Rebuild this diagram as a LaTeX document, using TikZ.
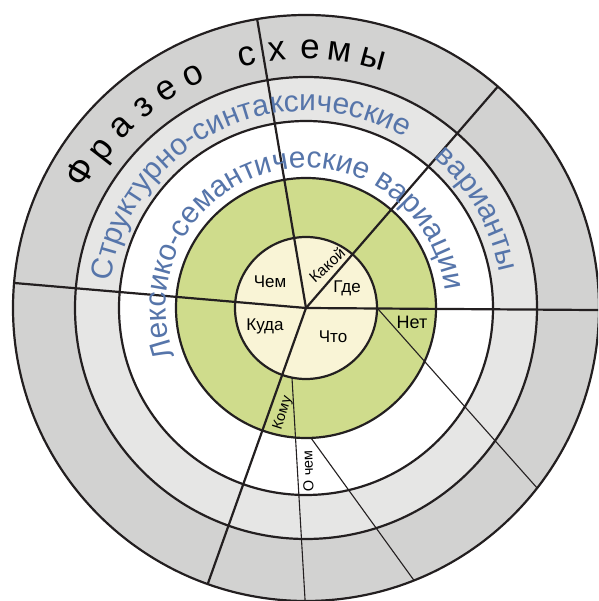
\documentclass[tikz,border=0pt]{standalone}
\usepackage{fontspec}
\setmainfont{Liberation Sans}
\usetikzlibrary{decorations.text}
\definecolor{ringdark}{RGB}{210,210,209}
\definecolor{ringlight}{RGB}{230,230,229}
\definecolor{ringgreen}{RGB}{207,220,140}
\definecolor{ringcream}{RGB}{249,244,214}
\definecolor{textblue}{RGB}{86,117,170}
\definecolor{linecol}{RGB}{35,31,32}
\tikzset{
    ring/.style={draw=linecol, line width=2.2pt},
    spoke/.style={draw=linecol, line width=2.2pt},
    thin spoke/.style={draw=linecol, line width=1.1pt},
    letter/.style={font=\fontsize{35}{35}\selectfont, anchor=base, inner sep=0pt},
    cell/.style={font=\fontsize{17}{17}\selectfont, inner sep=0pt},
    small cell/.style={font=\fontsize{14.5}{14.5}\selectfont, inner sep=0pt},
    arc text/.style={decorate, decoration={text along path, text align=center,
        text={|\fontsize{30}{30}\selectfont\color{textblue}|#1}}}
}
\begin{document}
\begin{tikzpicture}[x=1pt, y=1pt]
    \useasboundingbox (-306,-293) rectangle (292,308);
    \clip (-306,-293) rectangle (292,308);
    \coordinate (o) at (0,0);

    % Rings
    \fill[ringdark] (o) circle (293);
    \fill[ringlight] (o) circle (231);
    \fill[white] (o) circle (187);
    \fill[ringgreen] (o) circle (130);
    \fill[ringcream] (o) circle (71);

    % Spokes
    \draw[spoke] (o) -- (99.6:293);
    \draw[spoke] (o) -- (49.1:293);
    \draw[spoke] (o) -- (-0.4:300);
    \draw[spoke] (o) -- (175.1:293);
    \draw[spoke] (o) -- (250.4:293);
    \begin{scope}
        \clip (o) circle (293);
        \coordinate (komu) at (-14,-70);
        \coordinate (ochem) at (5,-130);
        \coordinate (net) at (72,-1);
        \draw[thin spoke] (komu) -- ++(26,-442);
        \draw[thin spoke] (ochem) -- ++(204,-282);
        \draw[thin spoke] (net) -- ++(320,-360);
    \end{scope}

    % Circles
    \draw[ring] (o) circle (293);
    \draw[ring] (o) circle (231);
    \draw[ring] (o) circle (187);
    \draw[ring] (o) circle (130);
    \draw[ring] (o) circle (71);

    % Outer ring letters
    \node[letter, rotate=59] (fr_1) at (149:252) {Ф};
    \node[letter, rotate=52.2] (fr_2) at (142.2:249) {р};
    \node[letter, rotate=45.5] (fr_3) at (135.5:249) {а};
    \node[letter, rotate=39] (fr_4) at (129:249) {з};
    \node[letter, rotate=32.6] (fr_5) at (122.6:249) {е};
    \node[letter, rotate=25.8] (fr_6) at (115.8:249) {о};
    \node[letter, rotate=13.2] (sx_1) at (103.2:249) {с};
    \node[letter, rotate=6.3] (sx_2) at (96.3:249) {х};
    \node[letter, rotate=-0.9] (sx_3) at (89.1:249) {е};
    \node[letter, rotate=-7.5] (sx_4) at (82.5:249) {м};
    \node[letter, rotate=-15] (sx_5) at (75:249) {ы};

    % Blue arc texts
    \path[arc text={Структурно-синтаксические}] (175:197) arc[start angle=175, end angle=57, radius=197];
    \path[arc text={варианты}] (55:197) arc[start angle=55, end angle=5, radius=197];
    \path[arc text={Лексико-семантические вариации}] (208:140) arc[start angle=208, end angle=-1, radius=140];

    % Sector labels
    \node[cell] (chem) at (-36,26) {Чем};
    \node[cell, font=\fontsize{15.5}{15.5}\selectfont, rotate=42] (kakoj) at (21,43) {Какой};
    \node[cell] (gde) at (41,20) {Где};
    \node[cell] (kuda) at (-41,-18) {Куда};
    \node[cell] (chto) at (27,-29) {Что};
    \node[cell, font=\fontsize{18}{18}\selectfont] (net_l) at (106,-14) {Нет};
    \node[small cell, rotate=72] (komu_l) at (-23,-105) {Кому};
    \node[small cell, rotate=92] (ochem_l) at (2,-163) {О чем};
\end{tikzpicture}
\end{document}
